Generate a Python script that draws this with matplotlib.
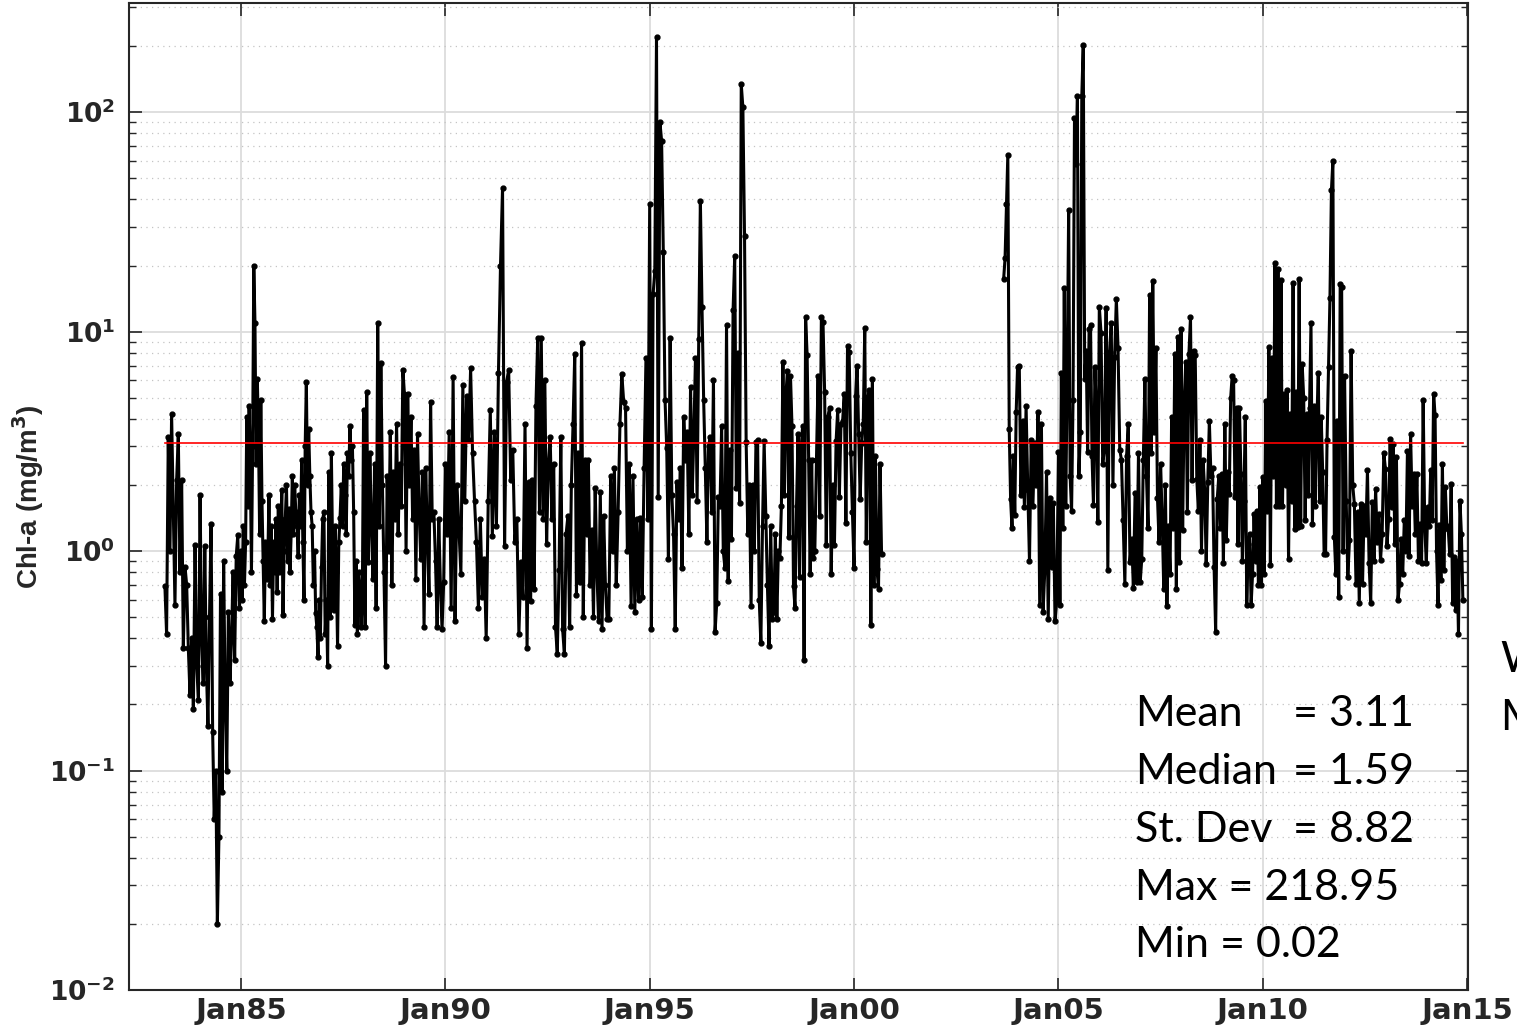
import numpy as np
import matplotlib
matplotlib.use('Agg')
import matplotlib.pyplot as plt
from matplotlib.ticker import FixedLocator, LogLocator, FuncFormatter, NullFormatter

plt.rcParams['font.family'] = ['DejaVu Sans']
plt.rcParams['mathtext.fontset'] = 'custom'
plt.rcParams['mathtext.rm'] = 'DejaVu Sans'
plt.rcParams['mathtext.bf'] = 'DejaVu Sans:bold'

# Chl-a (mg/m3) per year, samples spread evenly over the sampled part of each year
chl_1983 = [0.69, 0.42, 3.3, 1.0, 4.2, 1.5, 0.57, 2.1, 3.4, 0.8, 2.1, 0.36, 0.85, 0.7, 0.36, 0.22, 0.4, 0.19, 1.07, 0.3, 0.21]
chl_1984 = [1.8, 0.4, 0.25, 1.05, 0.3, 0.16, 0.5, 1.33, 0.15, 0.06, 0.1, 0.02, 0.05, 0.64, 0.08, 0.9, 0.2, 0.1,
            0.53, 0.25, 0.4, 0.8, 0.32, 0.95, 1.18, 0.55]
chl_1985 = [1.0, 0.6, 1.3, 0.7, 1.1, 4.1, 1.6, 4.6, 2.5, 0.8, 3.0, 20.0, 11.0, 2.5, 6.1, 3.5, 1.2, 4.9, 1.7,
            0.9, 0.48, 1.1, 0.75, 0.9, 1.8, 0.7, 1.3, 0.49, 1.1, 0.8, 1.4, 0.65, 1.6, 0.8, 1.2]
chl_1986 = [1.9, 0.51, 1.0, 1.4, 2.0, 0.9, 1.56, 0.8, 1.2, 2.2, 1.2, 2.0, 1.5, 1.3, 0.95, 1.8, 1.3, 2.6, 1.1,
            0.6, 3.0, 5.9, 2.0, 3.6, 2.2, 1.5, 1.3, 0.7, 1.0, 0.52, 0.45, 0.33, 0.6, 0.4, 0.85]
chl_1987 = [1.4, 1.5, 0.42, 0.6, 0.3, 2.3, 0.5, 2.8, 1.0, 0.54, 1.3, 0.8, 0.37, 1.1, 1.42, 2.0, 1.3, 2.5, 1.8,
            1.2, 2.8, 2.2, 3.7, 2.6, 3.0, 1.5, 0.46, 0.9, 0.42, 0.8, 0.7, 0.45, 0.6]
chl_1988 = [4.4, 0.45, 5.3, 0.89, 2.8, 1.3, 0.75, 2.5, 0.55, 10.9, 1.3, 7.2, 2.0, 0.8, 0.3, 2.2, 1.0, 3.5, 0.7,
            2.3, 1.4, 3.8, 1.2, 2.5, 1.6, 6.7]
chl_1989 = [5.2, 1.0, 5.2, 2.0, 4.1, 1.4, 2.9, 0.75, 3.4, 1.5, 0.92, 2.3, 0.45, 2.4, 1.2, 0.64, 4.8, 1.4, 1.5,
            0.9, 0.45, 1.4, 0.7, 0.44, 0.72]
chl_1990 = [2.5, 1.2, 3.5, 0.55, 6.2, 0.48, 2.0, 1.27, 0.79, 5.7, 1.7, 5.1, 3.2, 6.8, 2.8, 1.7, 1.1, 0.55, 1.4,
            0.62, 0.92]
chl_1991 = [0.4, 1.7, 4.4, 1.17, 3.5, 1.3, 6.5, 20.0, 45.0, 1.06, 5.9, 6.7, 2.1, 2.9, 1.1, 1.4, 0.42, 0.89,
            0.62, 3.8]
chl_1992 = [0.36, 2.06, 0.59, 2.1, 0.67, 4.6, 9.4, 1.5, 9.4, 1.4, 6.0, 1.08, 2.5, 3.3, 1.4, 2.5, 0.45, 0.34,
            0.82, 3.3, 0.44, 0.34, 1.2]
chl_1993 = [1.45, 0.45, 2.0, 3.8, 7.9, 0.63, 2.8, 0.72, 8.9, 0.5, 2.6, 1.2, 2.6, 0.7, 1.25, 0.5, 1.94, 0.8,
            0.48, 1.85, 0.44, 1.45, 0.7, 0.49]
chl_1994 = [0.49, 2.2, 1.0, 2.4, 0.7, 1.5, 3.8, 6.4, 4.8, 4.5, 1.0, 2.5, 0.56, 2.2, 0.53, 1.4, 0.6, 1.42,
            0.62, 2.4, 7.6, 1.4]
chl_1995 = [38.0, 0.44, 14.8, 18.8, 218.95, 1.77, 90.0, 74.0, 23.0, 4.9, 2.95, 0.92, 9.4, 1.8, 1.2, 0.44,
            2.07, 1.4, 2.4, 0.84, 4.1, 2.6, 3.5, 1.2]
chl_1996 = [5.6, 1.8, 3.4, 7.6, 1.7, 9.3, 39.5, 12.9, 4.9, 2.4, 1.1, 3.0, 3.3, 1.5, 6.0, 0.43, 0.58, 1.77,
            1.6, 3.7, 1.0, 0.84, 10.7, 0.73, 2.9]
chl_1997 = [1.14, 12.5, 22.0, 1.94, 8.0, 1.66, 134.0, 105.0, 27.4, 3.15, 1.2, 2.0, 0.56, 2.0, 1.0, 3.15, 3.2,
            0.6, 0.38, 1.3, 3.16, 1.45, 0.7, 0.37, 1.3]
chl_1998 = [0.49, 0.53, 1.2, 0.49, 1.0, 0.93, 1.6, 7.3, 1.8, 5.2, 6.6, 1.16, 6.3, 3.7, 0.69, 0.55, 1.6, 3.4,
            0.76, 2.9, 3.7, 0.32, 11.6, 7.8, 2.6, 0.79, 2.6]
chl_1999 = [0.93, 1.0, 2.6, 6.3, 1.45, 11.6, 11.1, 5.3, 1.07, 4.1, 4.5, 0.79, 2.0, 1.07, 3.16, 4.4, 1.77, 3.8,
            3.9, 5.2, 1.34, 8.6, 8.1, 2.8, 1.5]
chl_2000 = [0.84, 5.1, 7.0, 3.4, 1.73, 3.1, 3.8, 10.4, 1.1, 5.0, 5.4, 0.46, 6.1, 0.7, 2.7, 0.83, 0.67, 2.5,
            0.97]
chl_2003 = [17.4, 21.6, 38.0, 64.0, 3.6, 1.72, 1.27, 2.7, 1.46, 4.3]
chl_2004 = [6.9, 7.0, 1.8, 3.9, 1.59, 4.6, 1.9, 0.9, 3.2, 1.6, 3.1, 2.0, 4.3, 0.57, 3.8, 0.53, 0.82, 2.3, 0.49,
            1.75, 0.85, 1.65, 0.48, 0.59]
chl_2005 = [2.84, 0.57, 6.5, 1.27, 15.8, 1.6, 6.3, 36.0, 2.2, 1.52, 4.9, 94.0, 58.0, 118.0, 2.2, 3.5, 118.0,
            203.0, 6.1, 8.2, 2.84, 10.3, 10.7, 2.7, 1.62, 6.9, 4.2, 1.35]
chl_2006 = [13.0, 9.9, 2.5, 2.9, 12.8, 0.82, 8.1, 10.9, 2.0, 7.7, 14.1, 8.4, 2.9, 2.6, 1.38, 0.71, 2.7, 3.8,
            0.89, 1.13, 0.68, 1.83, 0.72, 2.8]
chl_2007 = [0.72, 0.92, 2.6, 6.1, 2.2, 1.27, 14.7, 2.8, 17.0, 3.5, 8.4, 1.75, 1.1, 2.5, 1.38, 0.67, 2.0, 0.56,
            1.3, 0.79, 4.1, 1.27, 7.9, 0.67, 9.5, 0.89]
chl_2008 = [10.3, 1.25, 4.8, 7.3, 1.5, 7.9, 11.6, 2.1, 8.2, 7.8, 2.14, 1.52, 3.2, 1.0, 2.6, 1.9, 0.87, 2.06,
            3.9, 2.2, 2.4, 0.85, 0.43, 1.72, 2.2, 1.27]
chl_2009 = [2.25, 0.88, 3.8, 1.12, 2.3, 1.82, 5.0, 6.3, 6.0, 1.76, 4.5, 1.08, 4.5, 2.25, 0.9, 1.7, 4.1, 0.57,
            1.08, 1.2, 0.57, 0.79, 1.48, 0.9, 1.53, 0.7, 1.96, 0.7]
chl_2010 = [2.17, 0.79, 4.85, 1.53, 8.5, 0.86, 7.6, 2.2, 20.5, 1.6, 19.3, 1.6, 17.1, 1.6, 5.2, 2.0, 5.4, 0.92,
            4.2, 1.7, 16.7, 1.26, 5.3, 1.29, 17.4, 1.3, 7.1]
chl_2011 = [5.0, 1.38, 4.2, 1.8, 4.5, 11.0, 1.33, 4.6, 1.6, 3.9, 6.5, 1.7, 4.1, 2.3, 0.97, 0.97, 3.2, 6.9, 14.3,
            44.0, 60.0, 1.16, 0.79, 3.9, 0.62, 16.4, 15.9, 1.0]
chl_2012 = [6.3, 1.7, 0.76, 1.12, 8.2, 1.99, 1.64, 0.71, 1.5, 0.58, 1.64, 0.71, 1.61, 1.2, 2.33, 0.88, 0.58,
            1.67, 0.9, 1.92, 1.1, 1.48, 0.91, 1.2, 2.8]
chl_2013 = [2.37, 1.06, 1.4, 3.25, 1.59, 3.08, 1.08, 2.68, 0.6, 0.71, 1.14, 0.79, 1.38, 1.0, 2.87, 0.95, 3.42,
            1.6, 2.25, 1.2, 2.25, 0.9, 1.33, 0.88, 4.9, 1.29]
chl_2014 = [0.88, 1.59, 1.3, 2.33, 1.38, 5.2, 4.15, 1.0, 0.57, 1.31, 0.74, 2.5, 0.82, 1.96, 1.3, 1.26, 0.97,
            2.02, 0.58, 0.94, 0.54, 0.9, 0.42, 1.7, 1.2, 0.6]

# sampled part of the partial years (decimal years)
first_sample = {1983: 1983.14, 2003: 2003.66}
last_sample = {2000: 2000.71, 2014: 2014.93}

mean_chl = 3.11
median_chl = 1.59
std_chl = 8.82
max_chl = 218.95
min_chl = 0.02

before_gap = [chl_1983, chl_1984, chl_1985, chl_1986, chl_1987, chl_1988, chl_1989, chl_1990, chl_1991,
              chl_1992, chl_1993, chl_1994, chl_1995, chl_1996, chl_1997, chl_1998, chl_1999, chl_2000]
after_gap = [chl_2003, chl_2004, chl_2005, chl_2006, chl_2007, chl_2008, chl_2009, chl_2010, chl_2011,
             chl_2012, chl_2013, chl_2014]


def series(lists, year0):
    t, v = [], []
    for k, vals in enumerate(lists):
        yr = year0 + k
        a = first_sample.get(yr, yr)
        b = last_sample.get(yr, yr + 1)
        n = len(vals)
        t.extend(a + (b - a) * np.arange(n) / n)
        v.extend(vals)
    return np.array(t), np.array(v)


t1, c1 = series(before_gap, 1983)
t2, c2 = series(after_gap, 2003)

fig = plt.figure(figsize=(15.17, 10.27), dpi=100)
ax = fig.add_axes([0.085, 0.036, 0.8827, 0.961])

for t, c in [(t1, c1), (t2, c2)]:
    ax.plot(t, c, '-', color='black', lw=2.2, marker='o', ms=3.5, mfc='black', mec='black', zorder=3)

ax.plot([t1[0], t2[-1]], [mean_chl, mean_chl], color='red', lw=1.2, zorder=4)

ax.set_yscale('log')
ax.set_ylim(0.01, 314)
ax.set_xlim(1982.26, 2015.02)

years = [1985, 1990, 1995, 2000, 2005, 2010, 2015]
ax.xaxis.set_major_locator(FixedLocator(years))
ax.set_xticklabels(['Jan%02d' % (y % 100) for y in years], fontsize=21, fontweight='bold', color='#262626')
ax.yaxis.set_major_locator(LogLocator(base=10, numticks=10))
ax.yaxis.set_minor_locator(LogLocator(base=10, subs=np.arange(2, 10), numticks=20))
ax.yaxis.set_major_formatter(FuncFormatter(lambda v, p: r'$\mathbf{10^{%d}}$' % round(np.log10(v))))
ax.yaxis.set_minor_formatter(NullFormatter())

ax.tick_params(which='both', direction='in', top=True, right=True, colors='#262626')
ax.tick_params(axis='y', labelsize=19, pad=10)
ax.tick_params(axis='x', pad=5)
ax.tick_params(which='major', length=9, width=1.2)
ax.tick_params(which='minor', length=5, width=1.0)

ax.grid(True, which='major', color='#dcdcdc', lw=1.3, ls='-', zorder=0)
ax.grid(True, which='minor', axis='y', color='#c4c4c4', lw=0.9, ls=(0, (1, 3.5)), zorder=0)
ax.set_axisbelow(True)
for s in ax.spines.values():
    s.set_color('#262626')
    s.set_linewidth(1.5)

ax.set_ylabel(r'Chl-a (mg/m$^{\mathbf{3}}$)', fontsize=20, fontweight='bold', color='#262626', labelpad=2,
              family=['Liberation Sans', 'DejaVu Sans'])

# summary statistics
stats_font = dict(fontsize=31, family=['Lato', 'DejaVu Sans'], color='black', va='center', ha='left')
x_lab = 1135 / 1517
x_eq = 1293 / 1517
rows = [('Mean', mean_chl, 714), ('Median', median_chl, 772), ('St. Dev', std_chl, 830)]
for name, val, ypix in rows:
    fig.text(x_lab, 1 - ypix / 1027, name, **stats_font)
    fig.text(x_eq, 1 - ypix / 1027, '= %.2f' % val, **stats_font)
fig.text(x_lab, 1 - 888 / 1027, 'Max = %.2f' % max_chl, **stats_font)
fig.text(x_lab, 1 - 945 / 1027, 'Min = %.2f' % min_chl, **stats_font)
fig.text(0.989, 1 - 660 / 1027, 'W', **stats_font)
fig.text(0.989, 1 - 718 / 1027, 'M', **stats_font)

fig.savefig('out.png', dpi=100)
